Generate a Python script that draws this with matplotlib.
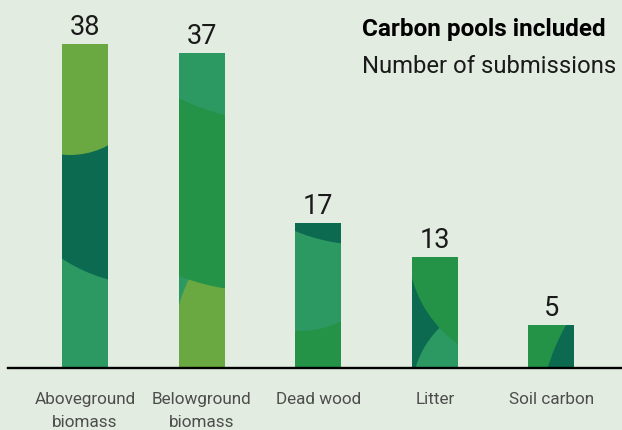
import matplotlib
matplotlib.use("Agg")
import matplotlib.pyplot as plt
from matplotlib.patches import Ellipse
from matplotlib.transforms import blended_transform_factory

plt.rcParams['font.family'] = ['Roboto', 'DejaVu Sans']

categories = ["Aboveground\nbiomass", "Belowground\nbiomass", "Dead wood", "Litter", "Soil carbon"]
submissions = [38, 37, 17, 13, 5]

bg = "#e2ece0"
olive = "#6aa842"
dark = "#0c6a50"
teal = "#2c9862"
green = "#249348"

base_colors = [teal, teal, green, dark, green]
# decorative arcs inside each bar: (colour, centre dx px, centre dy px, radius px),
# measured from the bar's lower-left corner
decor = [
    [(dark, 88, 243, 160), (olive, 8, 293, 80)],
    [(olive, 140, 24, 145), (green, 80, 296, 219), (teal, 97, 464, 217)],
    [(teal, 5, 127, 90), (dark, 70, 306, 183)],
    [(teal, 93, -26, 93), (green, 115, 121, 119)],
    [(dark, 235, -67, 226)],
]

fig = plt.figure(figsize=(6.22, 4.30), dpi=100)
fig.patch.set_facecolor(bg)
ax = fig.add_axes([8 / 622, 62 / 430, 614 / 622, 368 / 430])
ax.set_facecolor(bg)

x = list(range(len(categories)))
bars = ax.bar(x, submissions, width=0.3945, color=base_colors, linewidth=0, zorder=2)
ax.set_xlim(-0.6604, 4.6055)
ax.set_ylim(0, 43.19)

# pixels per data unit
p0 = ax.transData.transform((0, 0))
p1 = ax.transData.transform((1, 1))
px_x, px_y = p1[0] - p0[0], p1[1] - p0[1]

for bar, shapes in zip(bars, decor):
    left = bar.get_x()
    for col, dx, dy, r in shapes:
        e = Ellipse((left + dx / px_x, dy / px_y), 2 * r / px_x, 2 * r / px_y,
                    facecolor=col, edgecolor='none', zorder=3)
        ax.add_patch(e)
        e.set_clip_path(bar)

for xi, v in zip(x, submissions):
    ax.annotate(str(v), (xi, v), xytext=(0, 6.5), textcoords='offset points',
                ha='center', va='baseline', fontsize=19.5, color='#1a1a1a')

for s in ['top', 'right', 'left']:
    ax.spines[s].set_visible(False)
ax.spines['bottom'].set_linewidth(1.7)
ax.spines['bottom'].set_color('black')
ax.spines['bottom'].set_zorder(5)
ax.set_yticks([])
ax.set_xticks([])

# category labels, one line at a time
trans = blended_transform_factory(ax.transData, fig.transFigure)
line_y = [(430 - 404) / 430, (430 - 426.7) / 430]
for xi, cat in zip(x, categories):
    for k, line in enumerate(cat.split("\n")):
        ax.text(xi, line_y[k], line, transform=trans, ha='center', va='baseline',
                fontsize=12.3, color='#4d4d4d', clip_on=False)

fig.text(362 / 622, (430 - 35.7) / 430, "Carbon pools included", fontsize=17.5,
         fontweight='bold', color='black', va='baseline')
fig.text(362 / 622, (430 - 72.7) / 430, "Number of submissions", fontsize=17.2,
         color='#1a1a1a', va='baseline')

fig.savefig("out.png", dpi=100, facecolor=bg)
